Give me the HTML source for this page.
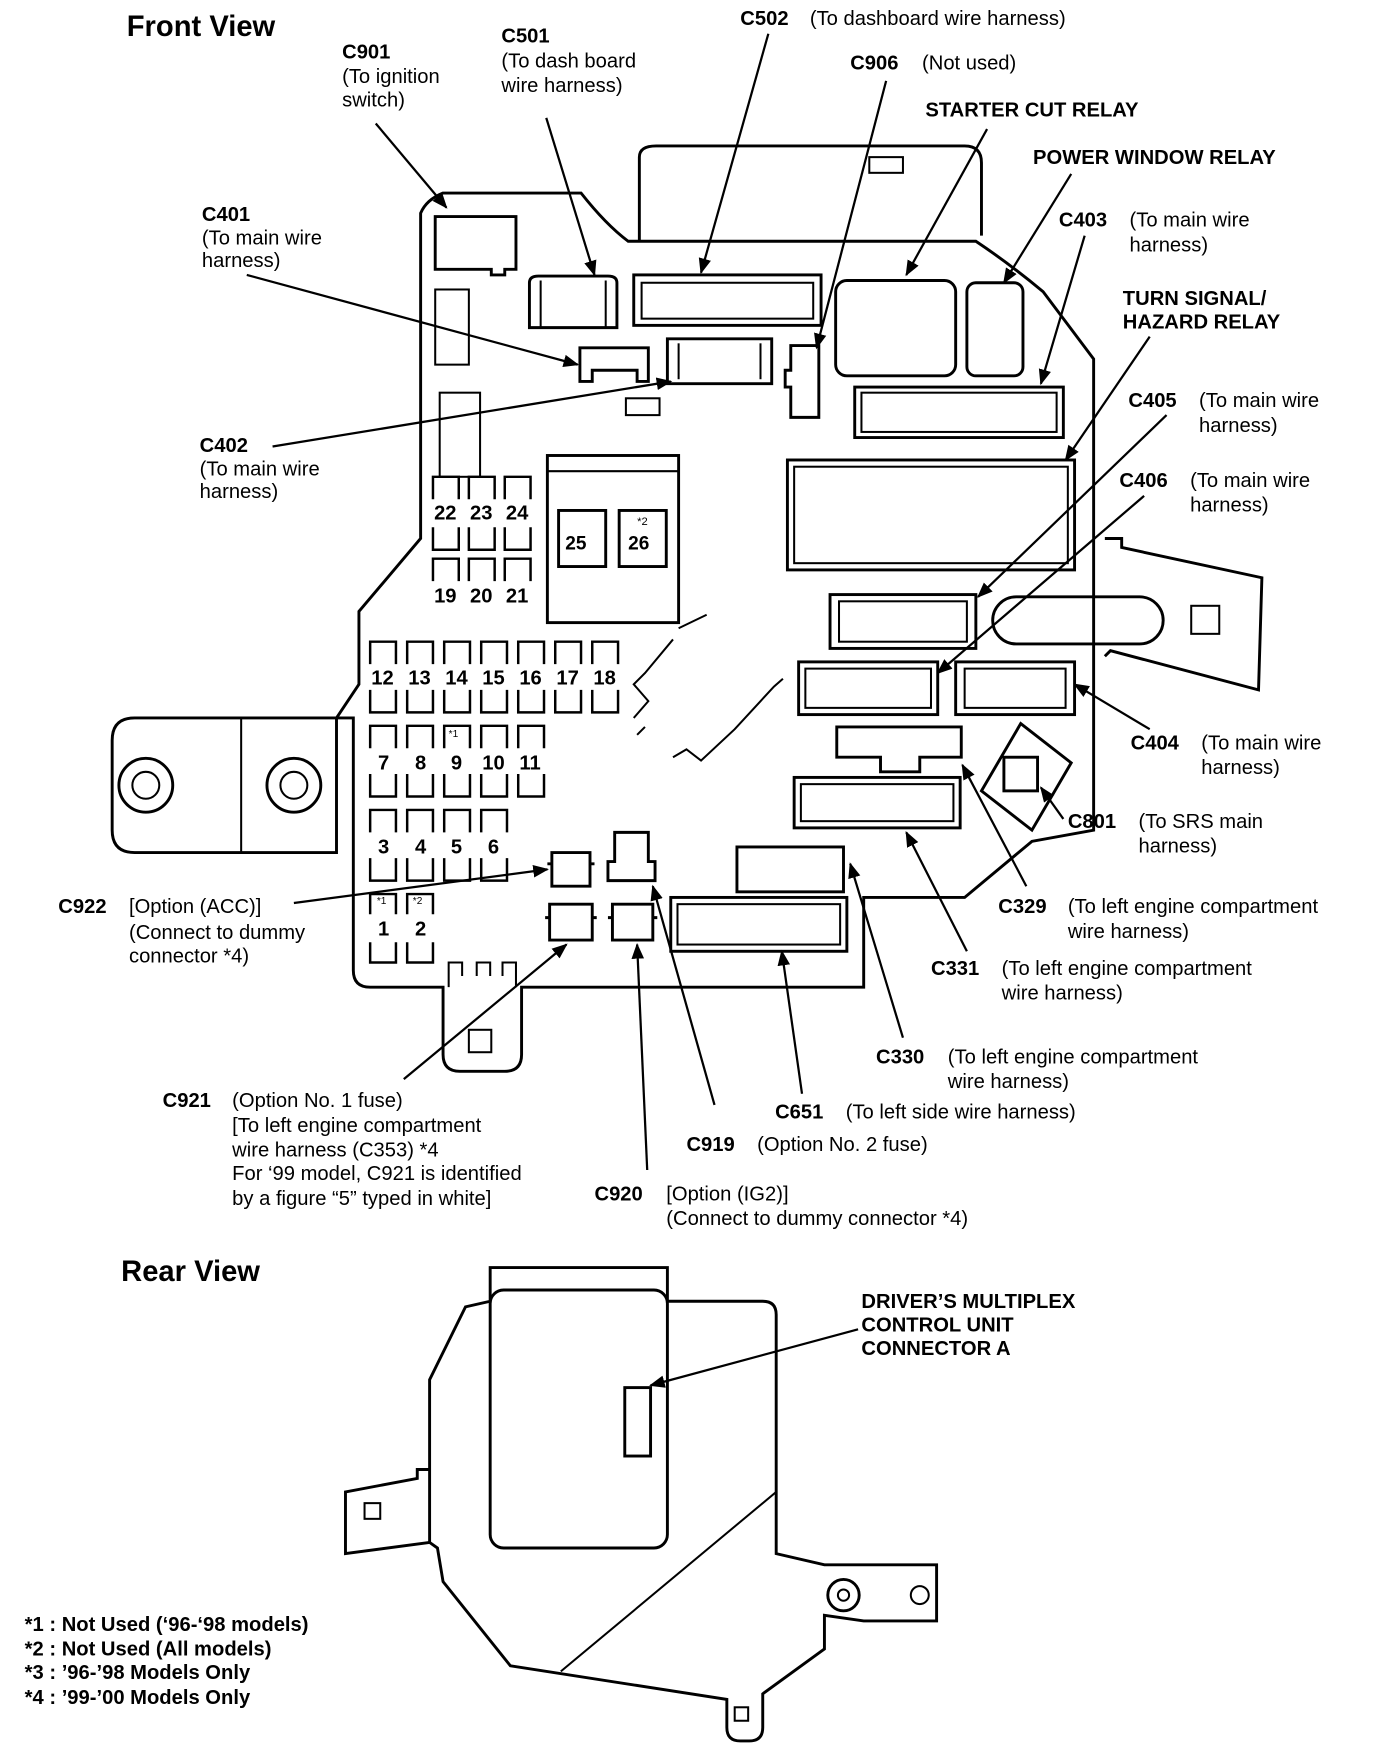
<!DOCTYPE html>
<html><head><meta charset="utf-8"><style>
html,body{margin:0;padding:0;background:#fff}
svg{display:block}
text{font-family:"Liberation Sans",sans-serif;font-size:18px;fill:#000}
.b{font-weight:bold}
.s{fill:none;stroke:#000;stroke-width:2.6}
.t{fill:none;stroke:#000;stroke-width:1.8}
.l{stroke:#000;stroke-width:2;fill:none;marker-end:url(#a)}
.f{font-size:17px;font-weight:bold}
</style></head><body>
<svg width="1392" height="1750" viewBox="0 0 1241 1560" xmlns="http://www.w3.org/2000/svg">
<defs><marker id="a" viewBox="0 0 10 10" refX="9" refY="5" markerWidth="7" markerHeight="7" orient="auto-start-reverse" markerUnits="userSpaceOnUse"><path d="M0,0 L10,5 L0,10 z"/></marker>
<marker id="a2" viewBox="0 0 10 10" refX="9" refY="5" markerWidth="14" markerHeight="14" orient="auto" markerUnits="userSpaceOnUse"><path d="M0,1 L10,5 L0,9 z"/></marker></defs>
<style>.l{marker-end:url(#a2)}</style>

<!-- FRONT VIEW BODY -->
<path class="s" d="M570,215 L570,140 Q570,130 585,130 L860,130 Q875,130 875,145 L875,210"/>
<rect class="t" x="775" y="140" width="30" height="14"/>
<path class="s" d="M395,172 L518,172 Q540,200 560,215 L870,215 Q900,235 930,260 L975,320 L975,740 L920,750 L860,800 L770,800 L770,880 L465,880 L465,940 Q465,955 450,955 L410,955 Q395,955 395,940 L395,880 L330,880 Q315,880 315,865 L315,640 L300,640 L300,760 L120,760 Q100,760 100,740 L100,660 Q100,640 120,640 L300,640 L320,610 L320,545 L375,480 L375,190 Q380,178 395,172 Z"/>
<line class="t" x1="215" y1="640" x2="215" y2="760"/>
<circle class="s" cx="130" cy="700" r="24"/><circle class="t" cx="130" cy="700" r="12"/>
<circle class="s" cx="262" cy="700" r="24"/><circle class="t" cx="262" cy="700" r="12"/>
<rect class="t" x="418" y="918" width="20" height="20"/>
<path class="t" d="M400,880 L400,858 L412,858 L412,870 M425,870 L425,858 L437,858 L437,870 M448,870 L448,858 L460,858 L460,880"/>
<!-- right arm -->
<path class="s" d="M985,480 L1000,480 L1000,488 L1125,515 L1122,615 L990,580 L985,585"/>
<rect class="s" x="885" y="532" width="152" height="42" rx="21"/>
<rect class="t" x="1062" y="540" width="25" height="25"/>
<!-- C901 -->
<path class="s" d="M388,193 L460,193 L460,240 L450,240 L450,245 L438,245 L438,240 L388,240 Z"/>
<rect class="t" x="388" y="258" width="30" height="67"/>
<rect class="t" x="392" y="350" width="36" height="75"/>
<!-- C501 C502 -->
<path class="s" d="M472,252 Q472,246 480,246 L542,246 Q550,246 550,252 L550,292 L472,292 Z"/>
<line class="t" x1="482" y1="250" x2="482" y2="292"/>
<line class="t" x1="540" y1="250" x2="540" y2="292"/>
<rect class="s" x="565" y="245" width="167" height="45"/>
<rect class="t" x="572" y="252" width="153" height="32"/>
<!-- C401 C402 C906 -->
<path class="s" d="M517,310 L578,310 L578,340 L568,340 L568,330 L528,330 L528,340 L517,340 Z"/>
<path class="s" d="M595,302 L688,302 L688,342 L595,342 Z"/>
<line class="t" x1="605" y1="306" x2="605" y2="338"/><line class="t" x1="678" y1="306" x2="678" y2="338"/>
<rect class="t" x="558" y="355" width="30" height="15"/>
<path class="s" d="M705,308 L730,308 L730,372 L705,372 L705,345 L700,345 L700,330 L705,330 Z"/>
<!-- relays -->
<rect class="s" x="745" y="250" width="107" height="85" rx="10"/>
<rect class="s" x="862" y="252" width="50" height="83" rx="8"/>
<rect class="s" x="762" y="345" width="186" height="45"/>
<rect class="t" x="768" y="350" width="174" height="35"/>
<rect class="s" x="702" y="410" width="256" height="98"/>
<rect class="t" x="708" y="416" width="244" height="86"/>
<!-- C405 C406 C404 -->
<rect class="s" x="740" y="530" width="130" height="48"/><rect class="t" x="748" y="536" width="114" height="36"/>
<rect class="s" x="712" y="590" width="124" height="47"/><rect class="t" x="718" y="596" width="112" height="35"/>
<rect class="s" x="852" y="590" width="106" height="47"/><rect class="t" x="860" y="596" width="90" height="35"/>
<!-- C329 C331 -->
<path class="s" d="M746,648 L857,648 L857,675 L820,675 L820,688 L785,688 L785,675 L746,675 Z"/>
<rect class="s" x="708" y="693" width="148" height="45"/><rect class="t" x="714" y="699" width="136" height="33"/>
<!-- C801 -->
<path class="s" d="M875,705 L910,645 L955,680 L920,740 Z"/>
<rect class="s" x="895" y="675" width="30" height="30"/>
<!-- C330 C651 -->
<rect class="s" x="657" y="755" width="95" height="40"/>
<rect class="s" x="598" y="800" width="157" height="48"/><rect class="t" x="604" y="806" width="145" height="36"/>
<!-- small option connectors -->
<path class="s" d="M548,742 L578,742 L578,768 L584,768 L584,785 L542,785 L542,768 L548,768 Z"/>
<path class="s" d="M492,760 L526,760 L526,790 L492,790 Z M488,770 L492,770 M526,770 L530,770"/>
<path class="s" d="M490,806 L528,806 L528,838 L490,838 Z M486,818 L490,818 M528,818 L532,818"/>
<path class="s" d="M546,806 L582,806 L582,838 L546,838 Z M542,818 L546,818 M582,818 L586,818"/>
<!-- fuse 25 26 -->
<rect class="s" x="488" y="406" width="117" height="149"/>
<line class="t" x1="488" y1="420" x2="605" y2="420"/>
<rect class="s" x="498" y="455" width="42" height="50"/>
<rect class="s" x="552" y="455" width="42" height="50"/>
<text x="504" y="490" class="f">25</text><text x="560" y="490" class="f">26</text>
<text x="568" y="468" style="font-size:10px">*2</text>
<!-- center jagged -->
<path class="t" d="M605,560 L630,548 M600,570 L575,600 L565,610 L578,625 L565,640 M575,648 L568,655 M600,675 L612,668 L625,678 L655,650 L690,612 L698,605"/>
<!-- fuses -->
<g class="t" id="fz">
</g>
<g fill="none" stroke="#000" stroke-width="2.2">
<!-- helper: top n and bottom u shapes -->
<path d="M386,445 L386,425 L409,425 L409,445 M418,445 L418,425 L441,425 L441,445 M450,445 L450,425 L473,425 L473,445"/>
<path d="M386,470 L386,490 L409,490 L409,470 M418,470 L418,490 L441,490 L441,470 M450,470 L450,490 L473,490 L473,470"/>
<path d="M386,518 L386,498 L409,498 L409,518 M418,518 L418,498 L441,498 L441,518 M450,518 L450,498 L473,498 L473,518"/>
<path d="M330,592 L330,572 L353,572 L353,592 M363,592 L363,572 L386,572 L386,592 M396,592 L396,572 L419,572 L419,592 M429,592 L429,572 L452,572 L452,592 M462,592 L462,572 L485,572 L485,592 M495,592 L495,572 L518,572 L518,592 M528,592 L528,572 L551,572 L551,592"/>
<path d="M330,615 L330,635 L353,635 L353,615 M363,615 L363,635 L386,635 L386,615 M396,615 L396,635 L419,635 L419,615 M429,615 L429,635 L452,635 L452,615 M462,615 L462,635 L485,635 L485,615 M495,615 L495,635 L518,635 L518,615 M528,615 L528,635 L551,635 L551,615"/>
<path d="M330,667 L330,647 L353,647 L353,667 M363,667 L363,647 L386,647 L386,667 M396,667 L396,647 L419,647 L419,667 M429,667 L429,647 L452,647 L452,667 M462,667 L462,647 L485,647 L485,667"/>
<path d="M330,690 L330,710 L353,710 L353,690 M363,690 L363,710 L386,710 L386,690 M396,690 L396,710 L419,710 L419,690 M429,690 L429,710 L452,710 L452,690 M462,690 L462,710 L485,710 L485,690"/>
<path d="M330,742 L330,722 L353,722 L353,742 M363,742 L363,722 L386,722 L386,742 M396,742 L396,722 L419,722 L419,742 M429,742 L429,722 L452,722 L452,742"/>
<path d="M330,765 L330,785 L353,785 L353,765 M363,765 L363,785 L386,785 L386,765 M396,765 L396,785 L419,785 L419,765 M429,765 L429,785 L452,785 L452,765"/>
<path d="M330,815 L330,797 L353,797 L353,815 M363,815 L363,797 L386,797 L386,815"/>
<path d="M330,840 L330,858 L353,858 L353,840 M363,840 L363,858 L386,858 L386,840"/>
</g>
<g class="f">
<text x="387" y="463">22</text><text x="419" y="463">23</text><text x="451" y="463">24</text>
<text x="387" y="537">19</text><text x="419" y="537">20</text><text x="451" y="537">21</text>
<text x="331" y="610">12</text><text x="364" y="610">13</text><text x="397" y="610">14</text><text x="430" y="610">15</text><text x="463" y="610">16</text><text x="496" y="610">17</text><text x="529" y="610">18</text>
<text x="337" y="686">7</text><text x="370" y="686">8</text><text x="402" y="686">9</text><text x="430" y="686">10</text><text x="463" y="686">11</text>
<text x="337" y="761">3</text><text x="370" y="761">4</text><text x="402" y="761">5</text><text x="435" y="761">6</text>
<text x="337" y="834">1</text><text x="370" y="834">2</text>
</g>
<text x="400" y="657" style="font-size:9px">*1</text>
<text x="336" y="806" style="font-size:9px">*1</text><text x="368" y="806" style="font-size:9px">*2</text>

<!-- LEADERS -->
<line class="l" x1="335" y1="110" x2="398" y2="185"/>
<line class="l" x1="487" y1="105" x2="530" y2="245"/>
<line class="l" x1="685" y1="30" x2="625" y2="243"/>
<line class="l" x1="790" y1="72" x2="728" y2="310"/>
<line class="l" x1="880" y1="115" x2="808" y2="245"/>
<line class="l" x1="955" y1="155" x2="895" y2="252"/>
<line class="l" x1="967" y1="210" x2="928" y2="342"/>
<line class="l" x1="1025" y1="300" x2="950" y2="410"/>
<line class="l" x1="1040" y1="370" x2="872" y2="532"/>
<line class="l" x1="1020" y1="442" x2="836" y2="600"/>
<line class="l" x1="1025" y1="650" x2="958" y2="610"/>
<line class="l" x1="948" y1="730" x2="928" y2="702"/>
<line class="l" x1="915" y1="790" x2="858" y2="682"/>
<line class="l" x1="862" y1="848" x2="808" y2="742"/>
<line class="l" x1="805" y1="925" x2="758" y2="770"/>
<line class="l" x1="715" y1="975" x2="697" y2="848"/>
<line class="l" x1="637" y1="985" x2="582" y2="790"/>
<line class="l" x1="577" y1="1043" x2="568" y2="842"/>
<line class="l" x1="360" y1="962" x2="505" y2="842"/>
<line class="l" x1="262" y1="805" x2="488" y2="775"/>
<line class="l" x1="220" y1="245" x2="515" y2="325"/>
<line class="l" x1="243" y1="398" x2="598" y2="340"/>
<line class="l" x1="765" y1="1185" x2="580" y2="1235"/>

<!-- LABELS -->
<text x="113" y="32" class="b" style="font-size:26px">Front View</text>
<text x="305" y="52" class="b">C901</text><text x="305" y="74">(To ignition</text><text x="305" y="95">switch)</text>
<text x="447" y="38" class="b">C501</text><text x="447" y="60">(To dash board</text><text x="447" y="82">wire harness)</text>
<text x="660" y="22" class="b">C502</text><text x="722" y="22">(To dashboard wire harness)</text>
<text x="758" y="62" class="b">C906</text><text x="822" y="62">(Not used)</text>
<text x="825" y="104" class="b">STARTER CUT RELAY</text>
<text x="921" y="146" class="b">POWER WINDOW RELAY</text>
<text x="944" y="202" class="b">C403</text><text x="1007" y="202">(To main wire</text><text x="1007" y="224">harness)</text>
<text x="1001" y="272" class="b">TURN SIGNAL/</text><text x="1001" y="293" class="b">HAZARD RELAY</text>
<text x="1006" y="363" class="b">C405</text><text x="1069" y="363">(To main wire</text><text x="1069" y="385">harness)</text>
<text x="998" y="434" class="b">C406</text><text x="1061" y="434">(To main wire</text><text x="1061" y="456">harness)</text>
<text x="1008" y="668" class="b">C404</text><text x="1071" y="668">(To main wire</text><text x="1071" y="690">harness)</text>
<text x="952" y="738" class="b">C801</text><text x="1015" y="738">(To SRS main</text><text x="1015" y="760">harness)</text>
<text x="890" y="814" class="b">C329</text><text x="952" y="814">(To left engine compartment</text><text x="952" y="836">wire harness)</text>
<text x="830" y="869" class="b">C331</text><text x="893" y="869">(To left engine compartment</text><text x="893" y="891">wire harness)</text>
<text x="781" y="948" class="b">C330</text><text x="845" y="948">(To left engine compartment</text><text x="845" y="970">wire harness)</text>
<text x="691" y="997" class="b">C651</text><text x="754" y="997">(To left side wire harness)</text>
<text x="612" y="1026" class="b">C919</text><text x="675" y="1026">(Option No. 2 fuse)</text>
<text x="530" y="1070" class="b">C920</text><text x="594" y="1070">[Option (IG2)]</text><text x="594" y="1092">(Connect to dummy connector *4)</text>
<text x="145" y="987" class="b">C921</text><text x="207" y="987">(Option No. 1 fuse)</text><text x="207" y="1009">[To left engine compartment</text><text x="207" y="1031">wire harness (C353) *4</text><text x="207" y="1052">For ‘99 model, C921 is identified</text><text x="207" y="1074">by a figure “5” typed in white]</text>
<text x="52" y="814" class="b">C922</text><text x="115" y="814">[Option (ACC)]</text><text x="115" y="837">(Connect to dummy</text><text x="115" y="858">connector *4)</text>
<text x="180" y="197" class="b">C401</text><text x="180" y="218">(To main wire</text><text x="180" y="238">harness)</text>
<text x="178" y="403" class="b">C402</text><text x="178" y="424">(To main wire</text><text x="178" y="444">harness)</text>

<!-- REAR VIEW -->
<text x="108" y="1142" class="b" style="font-size:26px">Rear View</text>
<path class="s" d="M437,1130 L595,1130 L595,1160 L680,1160 Q692,1160 692,1172 L692,1385 L735,1395 L800,1395 L835,1395 L835,1445 L770,1445 L735,1440 L735,1470 L680,1510 L680,1540 Q680,1552 668,1552 L660,1552 Q648,1552 648,1540 L648,1515 L455,1485 L395,1410 L390,1380 L383,1375 L383,1230 L415,1165 L437,1160 Z"/>
<rect class="s" x="437" y="1150" width="158" height="230" rx="12"/>
<path class="s" d="M383,1310 L372,1310 L372,1318 L308,1330 L308,1385 L383,1375"/>
<rect class="t" x="325" y="1340" width="14" height="14"/>
<rect class="s" x="557" y="1237" width="23" height="61"/>
<circle class="s" cx="752" cy="1422" r="14"/><circle class="t" cx="752" cy="1422" r="5"/>
<circle class="t" cx="820" cy="1422" r="8"/>
<rect class="t" x="655" y="1522" width="12" height="12"/>
<line class="t" x1="500" y1="1490" x2="692" y2="1330"/>
<line class="t" x1="692" y1="1385" x2="735" y2="1395"/>
<text x="768" y="1166" class="b">DRIVER’S MULTIPLEX</text><text x="768" y="1187" class="b">CONTROL UNIT</text><text x="768" y="1208" class="b">CONNECTOR A</text>
<text x="22" y="1454" class="b">*1 : Not Used (‘96-‘98 models)</text>
<text x="22" y="1476" class="b">*2 : Not Used (All models)</text>
<text x="22" y="1497" class="b">*3 : ’96-’98 Models Only</text>
<text x="22" y="1519" class="b">*4 : ’99-’00 Models Only</text>
</svg>
</body></html>
